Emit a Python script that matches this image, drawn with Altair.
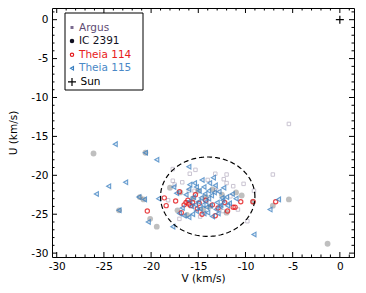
import altair as alt
import pandas as pd
import numpy as np

# ---------------- data ----------------
argus_v = [-5.4, -7.1, -17.7, -15.3, -15.9, -12.0, -12.3, -11.3, -10.2, -9.1,
           -9.8, -17.7, -17.5, -16.0, -15.4, -12.4, -18.2, -14.0, -13.1, -16.7,
           -11.6, -14.8, -10.8, -13.2, -12.0, -17.0, -14.6]
argus_u = [-13.4, -19.9, -19.2, -19.3, -19.8, -19.9, -20.5, -21.4, -21.1, -22.0,
           -25.9, -20.7, -21.2, -22.0, -22.0, -24.6, -23.2, -20.6, -21.9, -20.9,
           -22.7, -25.3, -24.4, -19.8, -21.0, -25.6, -23.0]

ic_v = [-26.1, -20.6, -20.1, -19.4, -23.4, -18.0, -11.0, -10.4, -5.4, -7.1,
        -1.3, -16.9, -15.0, -13.5, -12.5, -14.5, -16.2, -12.0, -17.2, -13.8,
        -15.6, -9.2, -20.8, -14.2, -21.2]
ic_u = [-17.2, -17.1, -25.6, -26.6, -24.5, -21.6, -22.2, -22.6, -23.1, -23.9,
        -28.8, -22.2, -22.0, -21.8, -22.5, -24.4, -25.1, -24.8, -24.5, -24.0,
        -23.0, -23.4, -23.1, -22.8, -22.8]

t114_v = [-20.4, -18.6, -18.4, -17.0, -17.4, -16.3, -16.0, -15.8, -15.6, -16.5,
          -16.8, -15.1, -14.2, -13.5, -12.9, -12.2, -11.3, -11.1, -10.5, -9.2,
          -6.8, -14.6, -13.2, -15.3, -11.9, -16.1, -14.9]
t114_u = [-24.6, -22.9, -23.9, -22.1, -23.3, -23.5, -23.7, -23.9, -23.5, -23.8,
          -24.8, -24.3, -23.2, -23.8, -24.2, -23.5, -24.1, -24.1, -23.4, -23.4,
          -23.4, -25.0, -25.2, -22.5, -24.6, -23.2, -23.6]

t115_v = [-23.8, -20.6, -19.4, -16.0, -25.8, -24.5, -22.7, -21.3, -20.7, -23.4,
          -20.3, -19.2, -17.7, -9.1, -6.5, -7.4, -17.6, -15.9, -15.4,
          -17.0, -16.5, -16.0, -15.6, -15.2, -14.8, -14.5, -14.2, -13.9, -13.6,
          -13.3, -13.0, -12.7, -12.4, -12.0, -11.7, -14.9, -14.4, -13.8, -13.2,
          -15.5, -15.9, -16.3, -14.0, -13.5, -12.9, -11.4, -11.0, -12.3, -14.6,
          -13.4, -15.2, -16.7, -13.7, -14.3, -12.8, -15.0, -16.0, -17.3,
          -14.1, -13.1, -12.5, -15.7, -14.7, -13.9, -12.6, -11.9, -15.3, -14.4]
t115_u = [-16.0, -17.1, -18.0, -18.9, -22.4, -21.4, -20.9, -22.8, -23.1, -24.5,
          -26.0, -23.0, -26.6, -27.6, -23.1, -24.4, -21.5, -21.2, -21.0,
          -24.9, -25.2, -25.4, -25.0, -24.6, -24.3, -23.8, -23.4, -23.0, -22.6,
          -22.2, -23.5, -24.0, -23.2, -22.8, -23.6, -22.0, -21.5, -21.0, -21.3,
          -22.8, -23.3, -22.5, -24.8, -25.3, -24.9, -22.4, -23.0, -21.6, -20.6,
          -20.3, -21.5, -24.2, -23.9, -22.4, -22.1, -23.4, -21.8, -22.3,
          -24.1, -24.4, -22.9, -24.0, -22.9, -22.0, -23.8, -23.9, -23.8, -24.9]

sun_v = [0.0]
sun_u = [0.0]

ellipse_center = (-14.0, -22.75)
ellipse_radii = (5.0, 5.1)

legend_labels = ["Argus", "IC 2391", "Theia 114", "Theia 115", "Sun"]
legend_text_colors = ["#5e4b73", "#111122", "#e8201c", "#4a88c6", "#000000"]

major_ticks = [-30, -25, -20, -15, -10, -5, 0]
minor_ticks = [t for t in range(-30, 2) if t % 5 != 0]

# ---------------- layout ----------------
W, H = 302, 249
FONT = "DejaVu Sans"
FS = 10.5
xs = alt.Scale(domain=[-30.5, 1.5], nice=False, zero=False)
ys = alt.Scale(domain=[-30.5, 1.5], nice=False, zero=False)

xaxis = alt.Axis(values=major_ticks, ticks=False, tickSize=0, domain=False, grid=False,
                 labelExpr="'' + datum.value", labelFont=FONT, labelFontSize=FS,
                 labelColor="black", labelPadding=4, title="V (km/s)", titleFont=FONT,
                 titleFontSize=FS, titleFontWeight="normal", titleColor="black",
                 titlePadding=2)
yaxis = alt.Axis(values=major_ticks, ticks=False, tickSize=0, domain=False, grid=False,
                 labelExpr="'' + datum.value", labelFont=FONT, labelFontSize=FS,
                 labelColor="black", labelPadding=4, title="U (km/s)", titleFont=FONT,
                 titleFontSize=FS, titleFontWeight="normal", titleColor="black",
                 titlePadding=12)


def X(f):
    return alt.X(f, scale=xs, axis=xaxis)


def Y(f):
    return alt.Y(f, scale=ys, axis=yaxis)


def pts(v, u):
    return pd.DataFrame({"V": v, "U": u})


argus = alt.Chart(pts(argus_v, argus_u)).mark_point(
    shape="square", size=12, filled=False, color="#6a5a80", opacity=0.35, strokeWidth=1
).encode(x=X("V:Q"), y=Y("U:Q"))

ic = alt.Chart(pts(ic_v, ic_u)).mark_point(
    shape="circle", size=34, filled=True, color="#000000", opacity=0.25
).encode(x=X("V:Q"), y=Y("U:Q"))

t114 = alt.Chart(pts(t114_v, t114_u)).mark_point(
    shape="circle", size=18, filled=False, color="#e41a1c", opacity=0.8, strokeWidth=1.2
).encode(x=X("V:Q"), y=Y("U:Q"))

t115 = alt.Chart(pts(t115_v, t115_u)).mark_point(
    shape="triangle-left", size=22, filled=False, stroke="#3a7fc0", fill="#3a7fc0",
    fillOpacity=0.15, strokeOpacity=0.75, strokeWidth=1.1
).encode(x=X("V:Q"), y=Y("U:Q"))

PLUS = "M-1,0L1,0M0,-1L0,1"
sun = alt.Chart(pts(sun_v, sun_u)).mark_point(
    shape=PLUS, size=64, filled=False, color="black", strokeWidth=1.2, opacity=1
).encode(x=X("V:Q"), y=Y("U:Q"))

theta = np.linspace(0, 2 * np.pi, 241)
ell_df = pd.DataFrame({
    "V": ellipse_center[0] + ellipse_radii[0] * np.cos(theta),
    "U": ellipse_center[1] + ellipse_radii[1] * np.sin(theta),
    "o": np.arange(len(theta)),
})
ellipse = alt.Chart(ell_df).mark_line(
    color="black", strokeDash=[5, 3], strokeWidth=1.2
).encode(x=X("V:Q"), y=Y("U:Q"), order="o:Q")

# inward ticks on all four sides
maj = pd.DataFrame({"V": major_ticks, "U": major_ticks})
mnr = pd.DataFrame({"V": minor_ticks, "U": minor_ticks})
tick_layers = []
for df, ln in ((maj, 5), (mnr, 2.5)):
    tick_layers += [
        alt.Chart(df).mark_rule(color="black", strokeWidth=1).encode(
            x=X("V:Q"), y=alt.value(H), y2=alt.value(H - ln)),
        alt.Chart(df).mark_rule(color="black", strokeWidth=1).encode(
            x=X("V:Q"), y=alt.value(0), y2=alt.value(ln)),
        alt.Chart(df).mark_rule(color="black", strokeWidth=1).encode(
            y=Y("U:Q"), x=alt.value(0), x2=alt.value(ln)),
        alt.Chart(df).mark_rule(color="black", strokeWidth=1).encode(
            y=Y("U:Q"), x=alt.value(W), x2=alt.value(W - ln)),
    ]

# legend box
one = pd.DataFrame({"a": [0]})
legend_layers = [
    alt.Chart(one).mark_rect(fill="white", stroke="black", strokeWidth=1).encode(
        x=alt.value(13), x2=alt.value(91), y=alt.value(5), y2=alt.value(82))
]
legend_marks = [
    dict(shape="square", size=9, filled=True, color="#7a6a90"),
    dict(shape="circle", size=20, filled=True, color="#111122"),
    dict(shape="circle", size=11, filled=False, color="#e41a1c", strokeWidth=1.2),
    dict(shape="triangle-left", size=12, filled=False, color="#3a7fc0", strokeWidth=1.1),
    dict(shape=PLUS, size=64, filled=False, color="black", strokeWidth=1.2),
]
y0, dy = 19.5, 13.6
for i, (lab, col) in enumerate(zip(legend_labels, legend_text_colors)):
    yy = y0 + i * dy
    legend_layers.append(
        alt.Chart(one).mark_point(opacity=1, **legend_marks[i]).encode(
            x=alt.value(20), y=alt.value(yy)))
    legend_layers.append(
        alt.Chart(pd.DataFrame({"lab": [lab]})).mark_text(
            align="left", baseline="middle", font=FONT, fontSize=FS, color=col
        ).encode(x=alt.value(27 if i < 4 else 28.5), y=alt.value(yy), text="lab:N"))

chart = alt.layer(
    argus, ic, t114, t115, ellipse, sun, *tick_layers, *legend_layers
).properties(
    width=W, height=H,
    padding={"left": 44, "top": 0, "right": 4, "bottom": 30},
    autosize=alt.AutoSizeParams(type="none"),
).configure_view(stroke="black", strokeWidth=1)

chart.save("out.html", embed_options={"renderer": "svg", "actions": False})
